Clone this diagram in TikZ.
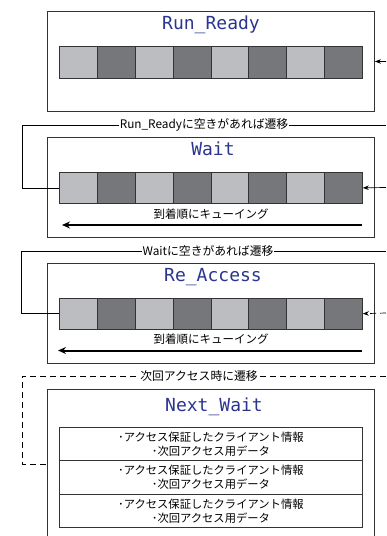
\documentclass[tikz,border=0pt]{standalone}
\usepackage{fontspec}
\newfontfamily\jp{Noto Sans CJK JP}
\newfontfamily\ttl{DejaVu Sans Mono}
\usetikzlibrary{arrows.meta}
\definecolor{qlight}{HTML}{BCBDC0}
\definecolor{qdark}{HTML}{76777B}
\definecolor{ttlblue}{HTML}{2B3590}
\definecolor{edge}{HTML}{333333}
\begin{document}
\begin{tikzpicture}[x=1pt,y=-1pt,
  box/.style={draw=edge, line width=0.9pt, minimum width=327pt, minimum height=100pt, inner sep=0pt, anchor=north west, fill=white},
  cell/.style={draw=edge, line width=0.8pt, minimum width=37.875pt, minimum height=31.5pt, inner sep=0pt, anchor=north west},
  title/.style={font=\ttl\fontsize{18}{20}\selectfont, text=ttlblue, anchor=base, inner sep=0pt},
  lbl/.style={font=\jp\fontsize{11.8}{14}\selectfont, fill=white, inner sep=1pt},
  qlbl/.style={font=\jp\fontsize{11.5}{14}\selectfont, inner sep=0pt},
  row/.style={draw=edge, line width=0.8pt, minimum width=303pt, minimum height=33.5pt, inner sep=0pt, anchor=north west, align=center, font=\jp\fontsize{11.3}{14}\selectfont},
  conn/.style={draw=black, line width=0.7pt},
  arr/.style={conn, -{Stealth[length=6pt,width=4.5pt]}},
  qarr/.style={draw=black, line width=2pt, -{Stealth[length=8pt,width=7pt]}},
  dline/.style={conn, dash pattern=on 6pt off 4pt}
]
\clip (0,0) rectangle (386,536);
\fill[white] (0,0) rectangle (386,536);

% Boxes
\node[box] (rr) at (47,11) {};
\node[box] (wt) at (47,137) {};
\node[box] (ra) at (47,263) {};
\node[box, minimum height=170pt] (nw) at (47,388.5) {};

% Titles
\node[title] (trr) at (211,29.5) {Run\_Ready};
\node[title] (twt) at (213,155.5) {Wait};
\node[title] (tra) at (213,281.5) {Re\_Access};
\node[title] (tnw) at (214,411.5) {Next\_Wait};

% Queues
\foreach \q/\y in {r/46, w/171.7, a/297.5}{
  \foreach \i in {0,...,7}{
    \pgfmathsetmacro{\xx}{59+\i*37.875}
    \ifodd\i
      \node[cell, fill=qdark] (\q-\i) at (\xx,\y) {};
    \else
      \node[cell, fill=qlight] (\q-\i) at (\xx,\y) {};
    \fi
  }
}

% Run_Ready incoming arrow
\coordinate (rin) at (386,61.5);
\draw[arr] (rin) -- (rr.east);

% Wait -> Run_Ready
\coordinate (l1r) at (386,125);
\coordinate (l1l) at (22,125);
\draw[conn] (l1r) -- (l1l) |- (w-0.west);
\node[lbl] (l1) at (204,125) {Run\_Readyに空きがあれば遷移};

% Wait incoming arrow
\coordinate (win) at (386,187.5);
\draw[arr] (win) -- (w-7.east);

% Wait queue direction
\node[qlbl] (qw) at (211,214) {到着順にキューイング};
\coordinate (qws) at (362,225);
\coordinate (qwe) at (62,225);
\draw[qarr] (qws) -- (qwe);

% Re_Access -> Wait
\coordinate (l2r) at (386,251);
\coordinate (l2l) at (21,251);
\draw[conn] (l2r) -- (l2l) |- (a-0.west);
\node[lbl] (l2) at (208,251) {Waitに空きがあれば遷移};

% Re_Access incoming dashed arrow
\coordinate (ain) at (386,313);
\draw[arr, dash pattern=on 6pt off 4pt] (ain) -- (a-7.east);

% Re_Access queue direction
\node[qlbl] (qa) at (211,339.5) {到着順にキューイング};
\coordinate (qas) at (362,350.5);
\coordinate (qae) at (58,350.5);
\draw[qarr] (qas) -- (qae);

% Next_Wait -> Re_Access (dashed)
\coordinate (l3r) at (386,376);
\coordinate (l3l) at (22,376);
\coordinate (nwin) at (47,464);
\draw[dline] (l3r) -- (l3l) |- (nwin);
\node[lbl] (l3) at (199,376) {次回アクセス時に遷移};

% Next_Wait rows
\node[row] (n1) at (59,426.7) {･アクセス保証したクライアント情報\\･次回アクセス用データ};
\node[row] (n2) at (59,460.2) {･アクセス保証したクライアント情報\\･次回アクセス用データ};
\node[row] (n3) at (59,493.7) {･アクセス保証したクライアント情報\\･次回アクセス用データ};
\end{tikzpicture}
\end{document}
